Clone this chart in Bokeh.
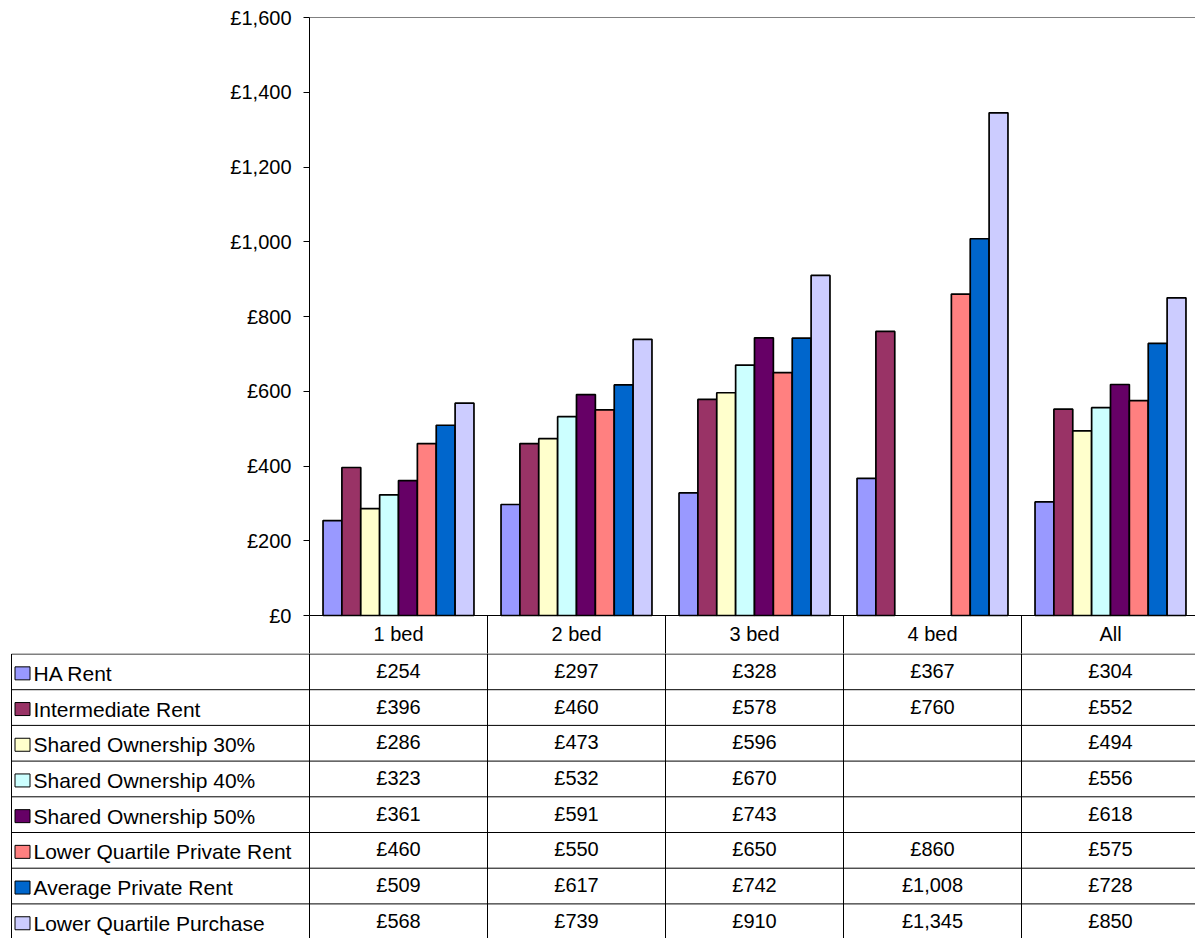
from bokeh.plotting import figure
from bokeh.layouts import column
from bokeh.models import Range1d, FixedTicker, ColumnDataSource, LinearAxis
from bokeh.core.properties import value
from bokeh.embed import file_html
from bokeh.resources import INLINE

# ---- data -------------------------------------------------------------
categories = ["1 bed", "2 bed", "3 bed", "4 bed", "All"]

series_names = [
    "HA Rent",
    "Intermediate Rent",
    "Shared Ownership 30%",
    "Shared Ownership 40%",
    "Shared Ownership 50%",
    "Lower Quartile Private Rent",
    "Average Private Rent",
    "Lower Quartile Purchase",
]
series_colors = ["#9999FF", "#993366", "#FFFFCC", "#CCFFFF",
                 "#660066", "#FF8080", "#0066CC", "#CCCCFF"]

ha_rent = [254, 297, 328, 367, 304]
intermediate_rent = [396, 460, 578, 760, 552]
shared_ownership_30 = [286, 473, 596, None, 494]
shared_ownership_40 = [323, 532, 670, None, 556]
shared_ownership_50 = [361, 591, 743, None, 618]
lq_private_rent = [460, 550, 650, 860, 575]
avg_private_rent = [509, 617, 742, 1008, 728]
lq_purchase = [568, 739, 910, 1345, 850]

series_values = [ha_rent, intermediate_rent, shared_ownership_30,
                 shared_ownership_40, shared_ownership_50,
                 lq_private_rent, avg_private_rent, lq_purchase]

y_ticks = [0, 200, 400, 600, 800, 1000, 1200, 1400, 1600]
y_tick_labels = ["£0", "£200", "£400", "£600", "£800",
                 "£1,000", "£1,200", "£1,400", "£1,600"]

# ---- layout ------------------------------------------------------------
W, H = 1195, 938
PLOT_LEFT, PLOT_TOP, AXIS_Y = 309, 17, 615
COL_W = 178                 # pixels per category column
BAR_W = 0.106               # bar width in category units
TABLE_LEFT = 11
HEADER_H = 38
ROW_H = 35.7
FONT = "Liberation Sans"

# shared horizontal scale: category units, x=0 at the value axis
x_lo = -PLOT_LEFT / COL_W
x_hi = (W - PLOT_LEFT) / COL_W
y_max = y_ticks[-1]
val_per_px = y_max / (AXIS_Y - PLOT_TOP)
top_h = AXIS_Y + HEADER_H
header_bottom = -HEADER_H * val_per_px


def blank(fig):
    fig.outline_line_color = None
    fig.grid.visible = False
    fig.background_fill_color = "white"
    fig.border_fill_color = "white"


# ---- chart (plot area + category header row) ------------------------------
p = figure(width=W, height=top_h,
           x_range=Range1d(x_lo, x_hi),
           y_range=Range1d(header_bottom, y_max + PLOT_TOP * val_per_px),
           x_axis_location=None, y_axis_location=None,
           output_backend="svg", toolbar_location=None,
           min_border_left=0, min_border_right=0,
           min_border_top=0, min_border_bottom=0)
blank(p)

n_series = len(series_values)
for j, (vals, col) in enumerate(zip(series_values, series_colors)):
    xs, tops = [], []
    for i, v in enumerate(vals):
        if v is None:
            continue
        xs.append(i + 0.5 + (j - (n_series - 1) / 2) * BAR_W)
        tops.append(v)
    src = ColumnDataSource(dict(x=xs, top=tops))
    p.vbar(x="x", top="top", bottom=0, width=BAR_W, source=src,
           fill_color=col, line_color="black", line_width=1.7)

# top edge of the plot area
p.segment(x0=[0], y0=[y_max], x1=[x_hi], y1=[y_max],
          line_color="#808080", line_width=1)

# column separators in the header row
n_cat = len(categories)
p.segment(x0=list(range(n_cat)), y0=[0] * n_cat,
          x1=list(range(n_cat)), y1=[header_bottom] * n_cat,
          line_color="black", line_width=1)

# value axis
ya = LinearAxis(fixed_location=0, bounds=(0, y_max),
                ticker=FixedTicker(ticks=y_ticks),
                major_label_overrides={t: lab for t, lab in zip(y_ticks, y_tick_labels)})
ya.axis_line_color = "black"
ya.major_tick_line_color = "black"
ya.major_tick_out = 6
ya.major_tick_in = 0
ya.minor_tick_out = 0
ya.minor_tick_in = 0
ya.major_label_standoff = 12
ya.major_label_text_font = FONT
ya.major_label_text_font_size = "20px"
ya.major_label_text_color = "black"
p.add_layout(ya, "left")

# category axis: labels centred in each column
col_center = [i + 0.5 for i in range(n_cat)]
xa = LinearAxis(fixed_location=0, bounds=(0, x_hi),
                ticker=FixedTicker(ticks=col_center, minor_ticks=[]),
                major_label_overrides={c: lab for c, lab in zip(col_center, categories)})
xa.axis_line_color = "black"
xa.major_tick_out = 0
xa.major_tick_in = 0
xa.minor_tick_out = 0
xa.minor_tick_in = 0
xa.major_label_standoff = 7
xa.major_label_text_font = FONT
xa.major_label_text_font_size = "20px"
xa.major_label_text_color = "black"
p.add_layout(xa, "below")

# ---- data table rows -------------------------------------------------------
TH = H - top_h
t = figure(width=W, height=TH,
           x_range=Range1d(x_lo, x_hi), y_range=Range1d(TH - 0.5, -0.5),
           x_axis_location=None, y_axis_location=None,
           output_backend="svg", toolbar_location=None,
           min_border_left=0, min_border_right=0,
           min_border_top=0, min_border_bottom=0)
blank(t)

n_rows = len(series_names)
bottom = n_rows * ROW_H + 2
tl = (TABLE_LEFT - PLOT_LEFT) / COL_W
x0s, y0s, x1s, y1s = [], [], [], []
# column separators
for i in range(n_cat):
    x0s.append(i); y0s.append(-1); x1s.append(i); y1s.append(bottom)
# legend column left edge
x0s.append(tl); y0s.append(0); x1s.append(tl); y1s.append(bottom)
# row separators
for k in range(n_rows + 1):
    yy = k * ROW_H
    x0s.append(tl); y0s.append(yy); x1s.append(x_hi); y1s.append(yy)
t.segment(x0="x0", y0="y0", x1="x1", y1="y1",
          source=ColumnDataSource(dict(x0=x0s, y0=y0s, x1=x1s, y1=y1s)),
          line_color="black", line_width=1)

# cell values
cx, cy, ct = [], [], []
for j, vals in enumerate(series_values):
    for i, v in enumerate(vals):
        if v is None:
            continue
        cx.append(col_center[i])
        cy.append((j + 0.5) * ROW_H - 1)
        ct.append(f"£{v:,}")
t.text(x="x", y="y", text="text",
       source=ColumnDataSource(dict(x=cx, y=cy, text=ct)),
       text_font=value(FONT), text_font_size=value("20px"),
       text_align="center", text_baseline="middle", text_color="black")

# legend keys and series names
ry = [(j + 0.5) * ROW_H + 1.5 for j in range(n_rows)]
t.rect(x=[tl + 11 / COL_W] * n_rows, y=ry, width=15, height=13,
       width_units="screen", height_units="screen",
       fill_color=series_colors, line_color="black", line_width=1)
t.text(x=[tl + 22 / COL_W] * n_rows, y=ry, text=series_names,
       text_font=value(FONT), text_font_size=value("21px"),
       text_align="left", text_baseline="middle", text_color="black")

layout = column(p, t, spacing=0)
open("out.html", "w").write(file_html(layout, INLINE))
